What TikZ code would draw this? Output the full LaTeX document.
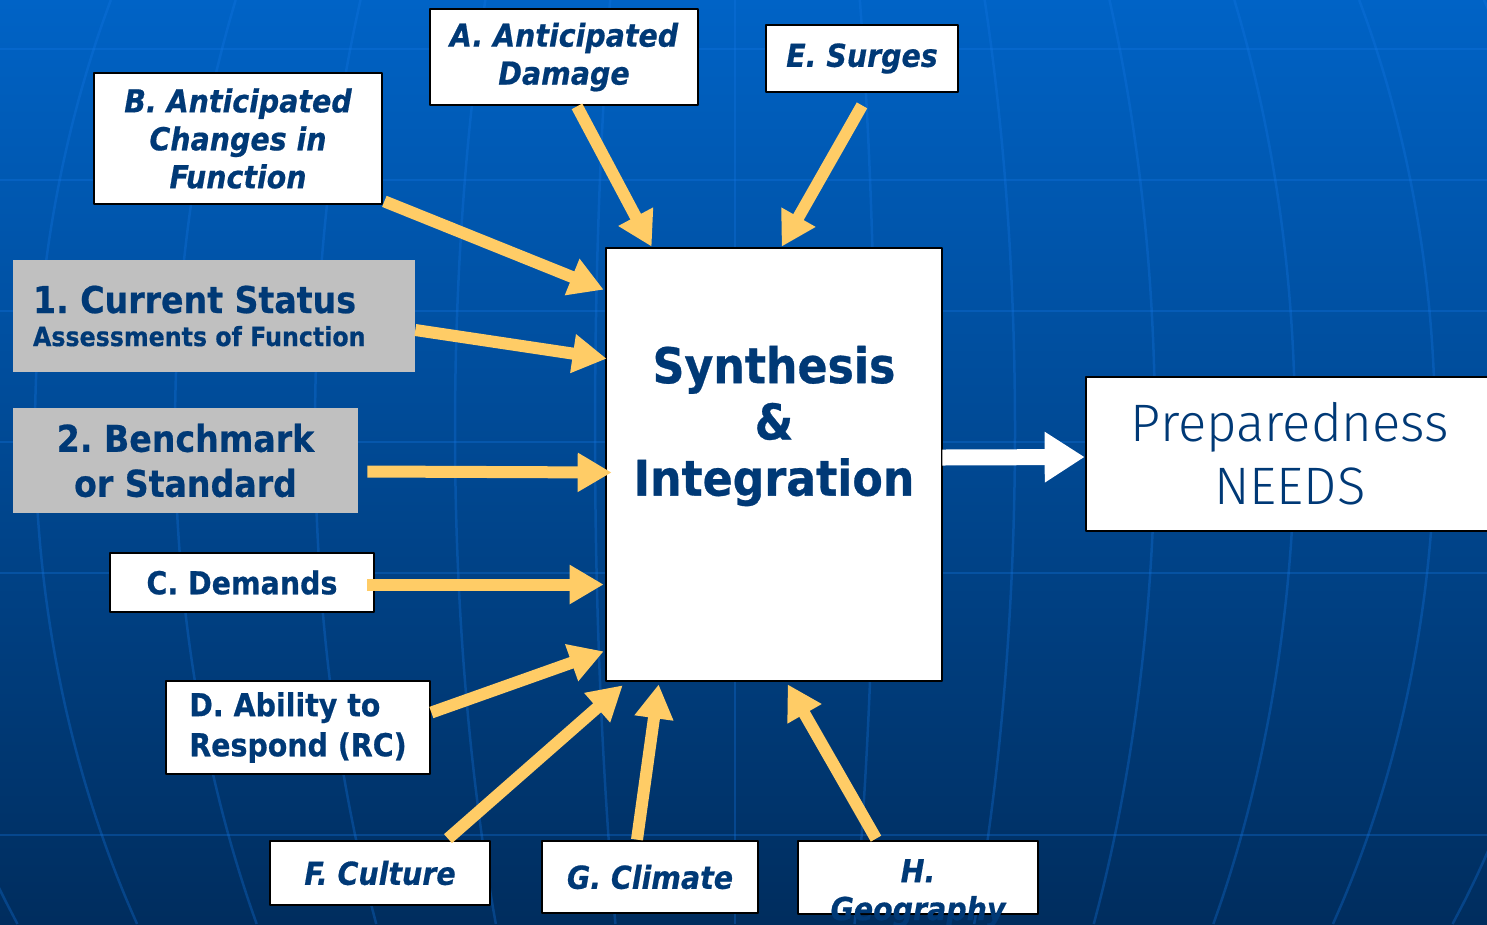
\documentclass[tikz,border=0pt]{standalone}
\usepackage{fontspec}
\setmainfont{DejaVu Sans Condensed}[BoldFeatures={FakeBold=0.6},BoldItalicFeatures={FakeBold=0.6}]
\newfontfamily\prepfont{Fira Sans Light}
\usetikzlibrary{arrows.meta,calc}
\definecolor{navy}{RGB}{0,57,118}
\definecolor{gold}{RGB}{255,204,102}
\definecolor{boxgray}{RGB}{192,192,192}
\definecolor{bgtop}{RGB}{0,99,198}
\definecolor{bgbot}{RGB}{0,45,94}
\definecolor{gridblue}{RGB}{20,120,230}
\frenchspacing
\begin{document}
\begin{tikzpicture}[x=0.02cm,y=-0.02cm,line join=round,
  gridline/.style={draw=gridblue,opacity=0.3,line width=0.05cm},
  box/.style={draw=black,line width=0.055cm,fill=white,inner sep=0pt,text=navy,align=center,font=\bfseries\fontsize{18}{21.6}\selectfont},
  ibox/.style={box,font=\bfseries\itshape\fontsize{18}{21.6}\selectfont},
  graybox/.style={fill=boxgray,inner sep=0pt,text=navy,font=\bfseries\fontsize{21}{25.6}\selectfont},
  feed/.style={draw=gold,line width=0.24cm,-{Triangle[length=0.68cm,width=0.74cm]}},
  outarrow/.style={draw=white,line width=0.32cm,-{Triangle[length=0.8cm,width=0.96cm]}}]
\useasboundingbox (0,0) rectangle (1487,924);
\clip (0,0) rectangle (1487,924);
\fill[top color=bgtop,bottom color=bgbot] (0,0) rectangle (1487,924);
\foreach \y in {49,180,311,442,573,835}
  \draw[gridline] (0,\y)--(1487,\y);
\foreach \n in {-6,...,6}
  \draw[gridline] plot[domain=0:924,samples=40,smooth] ({735+\n*140*sqrt(1-((\x-430)/950)^2)},\x);

\node[ibox,minimum width=5.36cm,minimum height=1.92cm] (A) at (564,57) {A. Anticipated\\Damage};
\node[ibox,minimum width=3.84cm,minimum height=1.34cm] (E) at (862,58.5) {E. Surges};
\node[ibox,minimum width=5.76cm,minimum height=2.62cm] (B) at (238,138.5) {B. Anticipated\\Changes in\\Function};
\node[graybox,minimum width=8.04cm,minimum height=2.26cm,text width=7.24cm,align=flush left,font=\bfseries\fontsize{21}{18.8}\selectfont] (cur) at (214,316) {1. Current Status\\{\fontsize{15}{16}\selectfont Assessments of Function}};
\node[graybox,minimum width=6.9cm,minimum height=2.1cm,align=center] (bench) at (185.5,460.5) {2. Benchmark\\or Standard};
\node[box,minimum width=5.28cm,minimum height=1.18cm] (C) at (242,582.5) {C. Demands};
\node[box,minimum width=5.28cm,minimum height=1.86cm,align=flush left,font=\bfseries\fontsize{18}{22.8}\selectfont] (D) at (298,727.5) {D. Ability to\\Respond (RC)};
\node[ibox,minimum width=4.4cm,minimum height=1.28cm] (F) at (380,873) {F. Culture};
\node[ibox,minimum width=4.32cm,minimum height=1.44cm] (G) at (650,877) {G. Climate};
\node[ibox,minimum width=4.8cm,minimum height=1.46cm] (H) at (918,877.5) {};
\node[text=navy,inner sep=0pt,align=center,font=\bfseries\itshape\fontsize{18}{21.6}\selectfont] (Hlab) at (918,893) {H.\\Geography};
\node[box,minimum width=6.72cm,minimum height=8.66cm] (synth) at (774,464.5) {};
\node[text=navy,inner sep=0pt,align=center,font=\bfseries\fontsize{28}{32}\selectfont] (synthlab) at (774,426) {Synthesis\\\&\\Integration};
\node[box,minimum width=8.16cm,minimum height=3.08cm,font=\prepfont\fontsize{30}{36}\selectfont] (prep) at (1290,454) {Preparedness\\NEEDS};

\draw[feed] ($(A.south)+(13,0)$) -- ($(synth.north west)+(47,0)$);
\draw[feed] ($(E.south)+(0,12)$) -- ($(synth.north west)+(177,0)$);
\draw[feed] ($(B.south east)+(1,-4)$) -- ($(synth.north west)+(-1,43)$);
\draw[feed] ($(cur.east)+(0,14)$) -- ($(synth.north west)+(2,112)$);
\draw[feed] ($(bench.east)+(9,11)$) -- ($(synth.west)+(7,8)$);
\draw[feed] ($(C.east)+(-8,2)$) -- ($(synth.west)+(-1,120)$);
\draw[feed] ($(D.east)+(0,-15)$) -- ($(synth.south west)+(-1,-31)$);
\draw[feed] ($(F.north)+(68,-1)$) -- ($(synth.south west)+(18,3)$);
\draw[feed] ($(G.north)+(-13,0)$) -- ($(synth.south west)+(54,2)$);
\draw[feed] ($(H.north)+(-42,-1)$) -- ($(synth.south west)+(183,2)$);
\draw[outarrow] ($(synth.east)+(-1,-7)$) -- ($(prep.west)+(0,3)$);
\end{tikzpicture}
\end{document}
